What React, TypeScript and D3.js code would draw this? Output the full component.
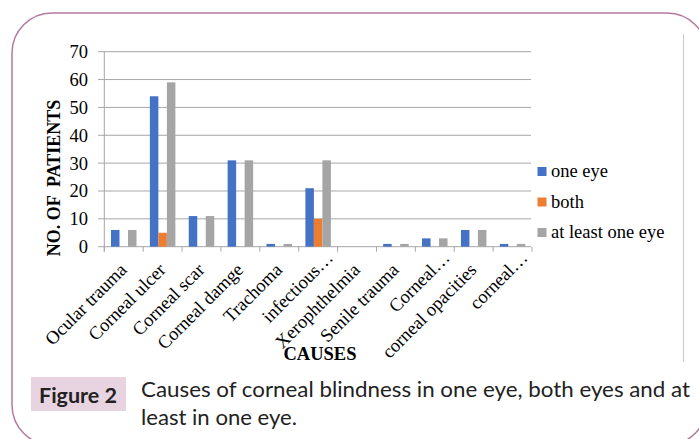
import React from "react";
import * as d3 from "d3";

const categories = [
  "Ocular trauma",
  "Corneal ulcer",
  "Corneal scar",
  "Corneal damge",
  "Trachoma",
  "infectious…",
  "Xerophthelmia",
  "Senile trauma",
  "Corneal…",
  "corneal opacities",
  "corneal…",
];
const seriesNames = ["one eye", "both", "at least one eye"];
const oneEye = [6, 54, 11, 31, 1, 21, 0, 1, 3, 6, 1];
const both = [0, 5, 0, 0, 0, 10, 0, 0, 0, 0, 0];
const atLeastOne = [6, 59, 11, 31, 1, 31, 0, 1, 3, 6, 1];
const yTicks = [0, 10, 20, 30, 40, 50, 60, 70];
const colors = ["#4472C4", "#ED7D31", "#A5A5A5"];

const W = 699;
const H = 439;
const left = 104.3;
const right = 532;
const top = 51.7;
const bottom = 246.7;

export default function App() {
  const seriesData = [oneEye, both, atLeastOne];
  const x0 = d3.scaleBand<string>().domain(categories).range([left, right]).paddingInner(0).paddingOuter(0);
  const x1 = d3.scaleBand<string>().domain(seriesNames).range([0, x0.bandwidth()]).paddingInner(0).paddingOuter(0.786);
  const y = d3.scaleLinear().domain([0, 70]).range([bottom, top]);
  const serif = "'Liberation Serif', 'Times New Roman', serif";
  const sans = "Lato, 'Open Sans', sans-serif";
  const boundaries = categories.map((c) => x0(c)!).concat([right]);

  return (
    <svg width={W} height={H} style={{ position: "absolute", left: 0, top: 0, background: "#fff" }}>
      <rect x={12} y={13} width={695} height={432} rx={40} ry={40} fill="none" stroke="#b5799f" strokeWidth={1.5} />
      <line x1={683.5} x2={683.5} y1={34} y2={362} stroke="#c8c8c8" strokeWidth={1} />
      {/* gridlines */}
      {yTicks.map((t) => (
        <g key={t}>
          <line x1={left} x2={right - 1} y1={y(t)} y2={y(t)} stroke="#a6a6a6" strokeWidth={1} />
          <line x1={98} x2={left} y1={y(t)} y2={y(t)} stroke="#a6a6a6" strokeWidth={1} />
          <text x={88} y={y(t)} dy="0.35em" textAnchor="end" fontFamily={serif} fontSize={18.5} fill="#000">
            {t}
          </text>
        </g>
      ))}
      <line x1={left} x2={left} y1={top} y2={bottom + 5} stroke="#a6a6a6" strokeWidth={1} />
      {boundaries.map((bx, i) => (
        <line key={i} x1={bx} x2={bx} y1={bottom} y2={bottom + 5} stroke="#a6a6a6" strokeWidth={1} />
      ))}
      {/* bars */}
      {categories.map((c, ci) => (
        <g key={c}>
          {seriesNames.map((s, si) => {
            const v = seriesData[si][ci];
            if (!v) return null;
            return (
              <rect
                key={s}
                x={x0(c)! + x1(s)!}
                y={y(v)}
                width={x1.bandwidth()}
                height={bottom - y(v)}
                fill={colors[si]}
              />
            );
          })}
        </g>
      ))}
      {/* x labels */}
      {categories.map((c) => {
        const cx = x0(c)! + x0.bandwidth() / 2;
        const ell = c.endsWith("…");
        return (
          <text
            key={c}
            transform={`translate(${cx + 4},${271}) rotate(-45)`}
            dx={ell ? 17 : 0}
            textAnchor="end"
            fontFamily={serif}
            fontSize={18.5}
            fill="#000"
          >
            {c}
          </text>
        );
      })}
      {/* axis titles */}
      <text
        transform={`translate(60,178) rotate(-90)`}
        textAnchor="middle"
        fontFamily={serif}
        fontWeight="bold"
        fontSize={18}
        fill="#000"
        style={{ whiteSpace: "pre" }}
      >
        {"NO. OF  PATIENTS"}
      </text>
      <text x={320} y={360} textAnchor="middle" fontFamily={serif} fontWeight="bold" fontSize={18.5} fill="#000">
        CAUSES
      </text>
      {/* legend */}
      {seriesNames.map((s, i) => (
        <g key={s}>
          <rect x={537.5} y={167 + i * 30.5} width={9} height={9} fill={colors[i]} />
          <text x={551} y={177 + i * 30.5} fontFamily={serif} fontSize={18.5} fill="#000">
            {s}
          </text>
        </g>
      ))}
      {/* caption */}
      <rect x={31} y={377} width={95} height={34} fill="#e8d4e1" />
      <text x={39} y={402.5} fontFamily={sans} fontWeight="bold" fontSize={21} textLength={78} lengthAdjust="spacingAndGlyphs" fill="#222">
        Figure 2
      </text>
      <text x={141} y={397} fontFamily={sans} fontSize={22} textLength={549} lengthAdjust="spacingAndGlyphs" fill="#222">
        Causes of corneal blindness in one eye, both eyes and at
      </text>
      <text x={141} y={425} fontFamily={sans} fontSize={22} textLength={156} lengthAdjust="spacingAndGlyphs" fill="#222">
        least in one eye.
      </text>
    </svg>
  );
}
